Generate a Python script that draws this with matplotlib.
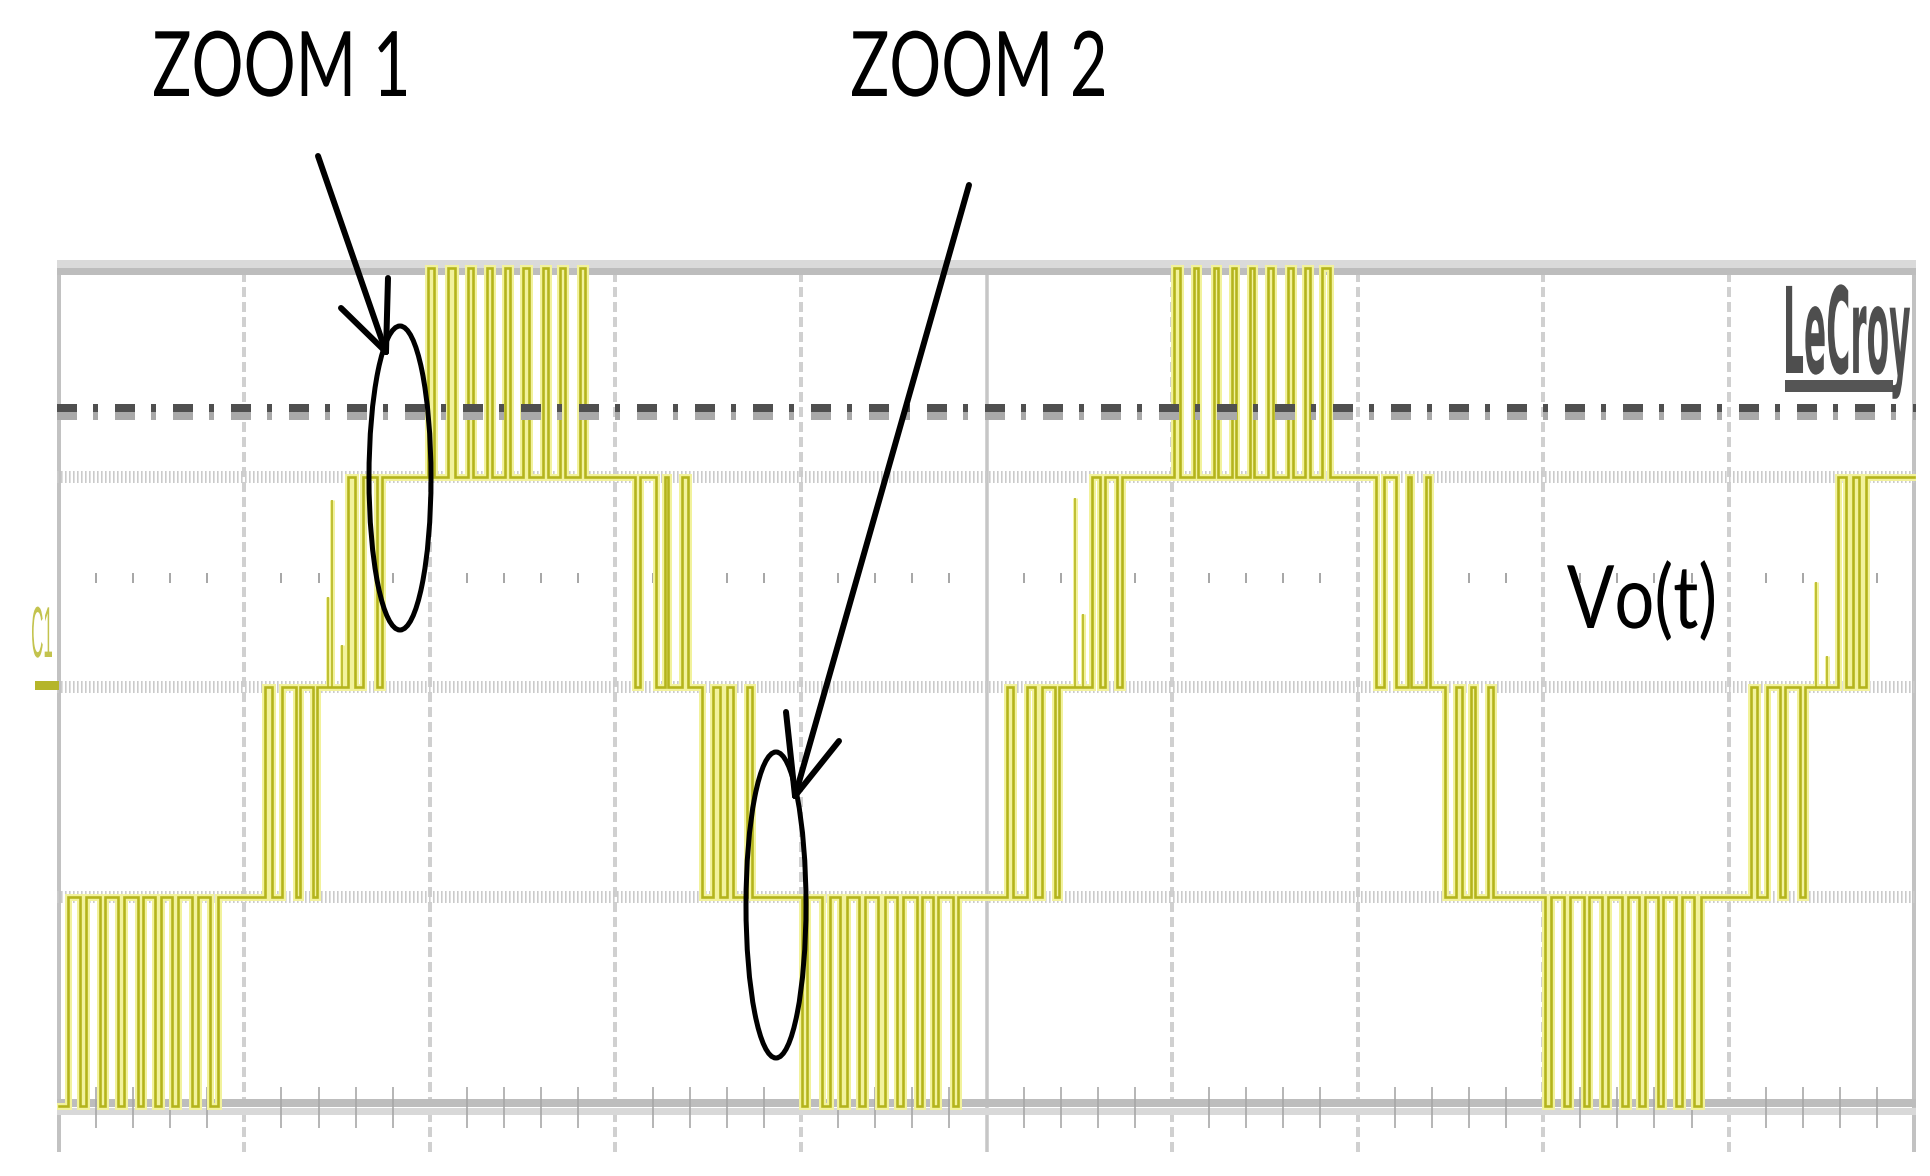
import matplotlib
matplotlib.use('Agg')
import matplotlib.pyplot as plt
import numpy as np
from matplotlib.patches import Ellipse, Rectangle
from matplotlib.patheffects import AbstractPathEffect
from matplotlib.transforms import Affine2D
from matplotlib.textpath import TextPath
from matplotlib.font_manager import FontProperties

plt.rcParams['lines.scale_dashes'] = False

# --- waveform data (time and level in scope divisions) ---
# staircase base level and the time it starts
base_t = [0.0, 1.202, 1.558, 3.218, 3.466, 5.218, 5.569, 7.205, 7.472, 9.208, 9.590]
base_lvl = [-1, 0, 1, 0, -1, 0, 1, 0, -1, 0, 1]

# narrow pulses up to +2 (positive peaks)
pos_on = [1.989, 2.097, 2.205, 2.307, 2.404, 2.501, 2.609, 2.701, 2.809,
          6.011, 6.119, 6.226, 6.323, 6.420, 6.517, 6.625, 6.717, 6.809]
pos_off = [2.024, 2.135, 2.232, 2.334, 2.431, 2.532, 2.636, 2.728, 2.836,
           6.043, 6.140, 6.248, 6.345, 6.442, 6.544, 6.652, 6.744, 6.852]

# narrow pulses down to -2 (negative peaks)
neg_on = [0.000, 0.113, 0.221, 0.318, 0.426, 0.517, 0.609, 0.717, 0.814,
          4.005, 4.113, 4.210, 4.313, 4.415, 4.518, 4.625, 4.712, 4.819,
          8.010, 8.113, 8.221, 8.318, 8.426, 8.517, 8.617, 8.717, 8.814]
neg_off = [0.050, 0.145, 0.250, 0.350, 0.455, 0.550, 0.640, 0.750, 0.857,
           4.035, 4.156, 4.248, 4.345, 4.453, 4.550, 4.652, 4.741, 4.846,
           8.040, 8.145, 8.250, 8.350, 8.455, 8.550, 8.645, 8.750, 8.850]

# pulses in the level transitions
tr_on = [1.110, 1.278, 1.369, 1.596, 1.714, 3.105, 3.267, 3.358, 3.526, 3.601, 3.709,
         5.111, 5.261, 5.369, 5.612, 5.704, 7.100, 7.270, 7.370, 7.531, 7.612, 7.704,
         9.121, 9.278, 9.385, 9.633, 9.704]
tr_off = [1.148, 1.299, 1.391, 1.639, 1.741, 3.132, 3.283, 3.391, 3.563, 3.633, 3.736,
          5.143, 5.299, 5.391, 5.639, 5.730, 7.143, 7.290, 7.392, 7.563, 7.633, 7.730,
          9.153, 9.305, 9.412, 9.671, 9.741]
tr_lvl = [0, -1, -1, 0, 0, 0, 1, 1, 0, 0, 0,
          0, -1, -1, 0, 0, 0, 1, 1, 0, 0, 0,
          0, -1, -1, 0, 0]

# short glitches seen on the zero level
spike_t = [1.450, 1.472, 1.526, 5.477, 5.520, 9.472, 9.531]
spike_top = [0.43, 0.89, 0.20, 0.90, 0.35, 0.50, 0.15]

# --- build step waveform ---
pulses = ([(a, b, 2) for a, b in zip(pos_on, pos_off)] +
          [(a, b, -2) for a, b in zip(neg_on, neg_off)] +
          [(a, b, l) for a, b, l in zip(tr_on, tr_off, tr_lvl)])
events = sorted(set(base_t + pos_on + pos_off + neg_on + neg_off + tr_on + tr_off + [10.0]))
wx, wy = [], []
for t0, t1 in zip(events[:-1], events[1:]):
    m = 0.5 * (t0 + t1)
    lvl = base_lvl[np.searchsorted(base_t, m, side='right') - 1]
    for a, b, l in pulses:
        if a <= m < b:
            lvl = l
    wx.append(t0)
    wy.append(lvl)
wx.append(10.0)
wy.append(wy[-1])


class Squeeze(AbstractPathEffect):
    """narrow the glyphs horizontally (the original picture is squashed)"""
    def __init__(self, sx, pivot='left'):
        super().__init__()
        self.sx = sx
        self.pivot = pivot

    def draw_path(self, renderer, gc, tpath, affine, rgbFace=None):
        ext = tpath.get_extents()
        p = ext.x0 if self.pivot == 'left' else ext.x1
        tr = Affine2D().translate(-p, 0).scale(self.sx, 1.0).translate(p, 0)
        renderer.draw_path(gc, tpath, tr + affine, rgbFace)


def squeezed_text(ax, left, baseline, s, width, size, family, color,
                  weight='normal', pivot='left'):
    prop = FontProperties(family=family, size=size, weight=weight)
    ext = TextPath((0, 0), s, prop=prop).get_extents()
    k = 100 / 72.0
    sx = width / (ext.width * k)
    if pivot == 'left':
        x = left - ext.x0 * k
    else:
        x = left + width - ext.x1 * k
    ax.text(x, baseline, s, fontproperties=prop, color=color,
            ha='left', va='baseline', path_effects=[Squeeze(sx, pivot)])


fig = plt.figure(figsize=(19.3, 11.76), dpi=100, facecolor='white')

# scope screen: 10 x-divisions, levels -2..2
ax = fig.add_axes([57 / 1930, 1 - 1152 / 1176, 1859 / 1930, 892 / 1176])
ax.set_xlim(-0.01, 10.01)
ax.set_ylim(-2.217, 2.036)
ax.axis('off')

px = 0.72  # points per pixel

# vertical graticule
for g in range(1, 10):
    if g == 5:
        ax.axvline(g, color='#c6c6c6', lw=3.5 * px, zorder=1)
    else:
        ax.axvline(g, color='#d0d0d0', lw=4 * px, dashes=(10 * px, 5 * px), zorder=1)
ax.axvline(0, color='#c2c2c2', lw=4 * px, zorder=1)
ax.axvline(10, color='#c2c2c2', lw=4 * px, zorder=1)

# hatched level lines
for lv in [1, 0, -1]:
    ax.axhline(lv, color='#cbcbcb', lw=12 * px, dashes=(1.6 * px, 2.4 * px), zorder=1)

# top and bottom bands
ax.axhline(2.008, color='#dadada', lw=12 * px, zorder=1)
ax.axhline(1.985, color='#bdbdbd', lw=7 * px, zorder=1)
ax.axhline(-1.985, color='#bdbdbd', lw=8 * px, zorder=1)
ax.axhline(-2.02, color='#d8d8d8', lw=7 * px, zorder=1)

# small ticks every 0.2 div
ticks = np.arange(0.2, 10.0, 0.2)
ticks = ticks[np.abs(ticks - np.round(ticks)) > 0.05]
ax.vlines(ticks, 0.496, 0.544, color='#a8a8a8', lw=2 * px, zorder=1)
ax.vlines(ticks, -2.103, -1.905, color='#a6a6a6', lw=1.6 * px, zorder=1)

# trace
ax.plot(wx, wy, drawstyle='steps-post', color='#f2f29c', lw=7 * px,
        solid_joinstyle='miter', zorder=3)
ax.plot(wx, wy, drawstyle='steps-post', color='#b4b41c', lw=2.6 * px,
        solid_joinstyle='miter', zorder=4)
ax.vlines(spike_t, 0, spike_top, color='#f2f29c', lw=5 * px, zorder=3)
ax.vlines(spike_t, 0, spike_top, color='#b4b41c', lw=1.6 * px, zorder=4)

# trigger / threshold dash-dot line
dd = (20 * px, 16 * px, 5 * px, 17 * px)
ax.axhline(1.292, color='#a9a9a9', lw=8 * px, dashes=dd, zorder=5)
ax.axhline(1.330, color='#4f4f4f', lw=8 * px, dashes=dd, zorder=5)

# overlay in pixel coordinates for the annotations
ov = fig.add_axes([0, 0, 1, 1], facecolor='none')
ov.set_xlim(0, 1930)
ov.set_ylim(1176, 0)
ov.axis('off')

# channel label and ground marker
squeezed_text(ov, 32, 657, 'C1', 20, 52, 'Liberation Sans', '#c3c34e')
ov.add_patch(Rectangle((35, 681), 24, 9, color='#b5b52a', lw=0))

# LeCroy logo
squeezed_text(ov, 1786, 373, 'LeCroy', 124, 86, 'DejaVu Sans', '#4e4e4e',
              weight='bold', pivot='right')
ov.add_patch(Rectangle((1785, 380), 108, 12, color='#555555', lw=0))

# annotations
squeezed_text(ov, 154, 96, 'ZOOM 1', 252, 65, 'Lato', 'black')
squeezed_text(ov, 852, 96, 'ZOOM 2', 252, 65, 'Lato', 'black')
squeezed_text(ov, 1567, 628, 'Vo(t)', 147, 63, 'Lato', 'black')

lw_a = 6 * px
ov.plot([318, 386], [156, 352], color='black', lw=lw_a, solid_capstyle='round')
ov.plot([341, 386], [308, 352], color='black', lw=lw_a, solid_capstyle='round')
ov.plot([388, 386], [278, 352], color='black', lw=lw_a, solid_capstyle='round')
ov.add_patch(Ellipse((400, 478), 62, 304, fill=False, ec='black', lw=5 * px))

ov.plot([969, 795], [185, 796], color='black', lw=lw_a, solid_capstyle='round')
ov.plot([839, 795], [741, 796], color='black', lw=lw_a, solid_capstyle='round')
ov.plot([786, 795], [712, 796], color='black', lw=lw_a, solid_capstyle='round')
ov.add_patch(Ellipse((776, 905), 60, 306, fill=False, ec='black', lw=5 * px))

fig.savefig('out.png', dpi=100, facecolor='white')
